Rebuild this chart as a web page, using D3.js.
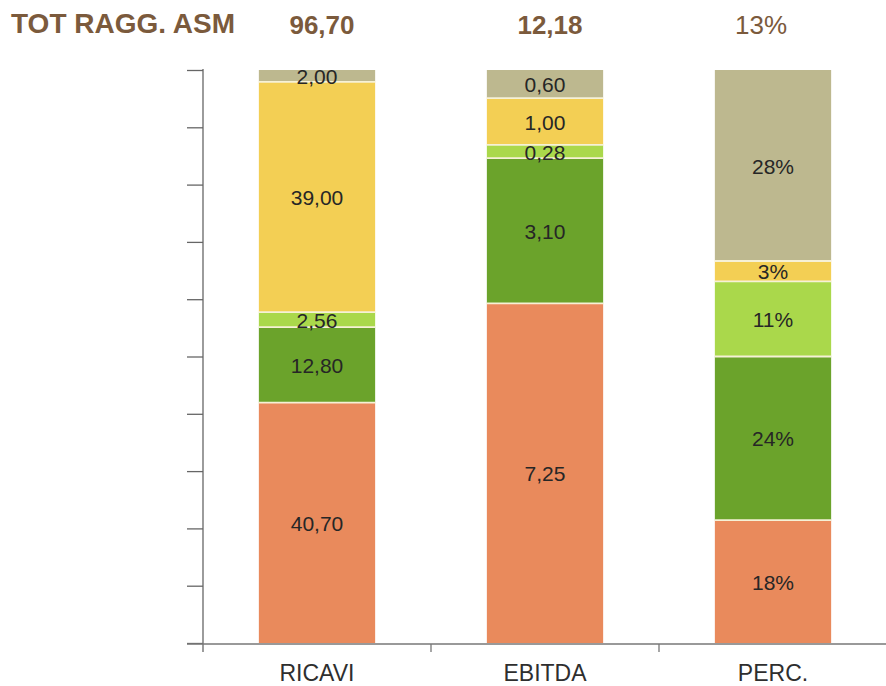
<!DOCTYPE html>
<html>
<head>
<meta charset="utf-8">
<script src="https://cdn.jsdelivr.net/npm/d3@7"></script>
<style>
  body { margin: 0; background: #fff; }
  svg { display: block; font-family: "Liberation Sans", Arial, sans-serif; }
</style>
</head>
<body>
<svg id="chart" width="886" height="686"></svg>
<script>
// categories and header totals
const categories = ["RICAVI", "EBITDA", "PERC."];
const headerTitle = "TOT RAGG. ASM";
const headerTotals = ["96,70", "12,18", "13%"];

// segments, bottom to top
const seriesKeys = ["s1", "s2", "s3", "s4", "s5"];
const s1 = [40.70, 7.25, 18];   // orange
const s2 = [12.80, 3.10, 24];   // dark green
const s3 = [2.56, 0.28, 11];    // light green
const s4 = [39.00, 1.00, 3];    // yellow
const s5 = [2.00, 0.60, 28];    // khaki
const seriesColors = ["#e98a5c", "#6ba32b", "#aad84b", "#f3cf54", "#bdb88f"];

const svg = d3.select("#chart");
const plotLeft = 203, plotRight = 887, plotTop = 70, plotBottom = 643;

const rows = categories.map(function(c, i) {
  return {cat: c, s1: s1[i], s2: s2[i], s3: s3[i], s4: s4[i], s5: s5[i]};
});

const stack = d3.stack().keys(seriesKeys).offset(d3.stackOffsetExpand);
const layers = stack(rows);

const x = d3.scaleBand()
    .domain(categories)
    .range([plotLeft, plotRight])
    .paddingInner(0.49)
    .paddingOuter(0.245);

const y = d3.scaleLinear()
    .domain([0, 1])
    .range([plotBottom, plotTop]);

const color = d3.scaleOrdinal().domain(seriesKeys).range(seriesColors);

function fmt(v, i) {
  if (i == 2) return v + "%";
  return v.toFixed(2).replace(".", ",");
}

// y axis
const yAxis = d3.axisLeft(y)
    .tickValues(d3.range(0, 1.0001, 0.1))
    .tickSize(16)
    .tickFormat("");

const gY = svg.append("g")
    .attr("transform", "translate(" + plotLeft + ",0)")
    .call(yAxis);
gY.select(".domain").remove();
gY.selectAll("line").attr("stroke", "#666").attr("stroke-width", 1.3);
svg.append("line")
    .attr("x1", plotLeft).attr("x2", plotLeft)
    .attr("y1", y(1) - 1).attr("y2", plotBottom + 9)
    .attr("stroke", "#666").attr("stroke-width", 1.3);

// x axis line + ticks at band edges
svg.append("line")
    .attr("x1", plotLeft - 16).attr("x2", plotRight)
    .attr("y1", plotBottom + 1).attr("y2", plotBottom + 1)
    .attr("stroke", "#777").attr("stroke-width", 1.3);
const step = x.step();
svg.selectAll(".xtick")
    .data(d3.range(1, categories.length + 1))
    .enter().append("line")
    .attr("class", "xtick")
    .attr("x1", function(d) { return plotLeft + d * step; })
    .attr("x2", function(d) { return plotLeft + d * step; })
    .attr("y1", plotBottom + 1).attr("y2", plotBottom + 9)
    .attr("stroke", "#777").attr("stroke-width", 1.3);

// bars
const g = svg.selectAll(".layer")
    .data(layers)
    .enter().append("g")
    .attr("class", "layer")
    .attr("fill", function(d) { return color(d.key); });

g.selectAll("rect")
    .data(function(d) { return d; })
    .enter().append("rect")
    .attr("x", function(d) { return x(d.data.cat); })
    .attr("y", function(d) { return y(d[1]); })
    .attr("width", x.bandwidth())
    .attr("height", function(d) { return y(d[0]) - y(d[1]); });

// thin light separators between segments
svg.selectAll(".sep")
    .data(layers.slice(0, -1).flatMap(function(l) { return l; }))
    .enter().append("line")
    .attr("class", "sep")
    .attr("x1", function(d) { return x(d.data.cat); })
    .attr("x2", function(d) { return x(d.data.cat) + x.bandwidth(); })
    .attr("y1", function(d) { return y(d[1]); })
    .attr("y2", function(d) { return y(d[1]); })
    .attr("stroke", "#f6f1d6").attr("stroke-width", 1.8);

// segment labels
layers.forEach(function(layer) {
  svg.selectAll(".lbl-" + layer.key)
      .data(layer)
      .enter().append("text")
      .attr("x", function(d) { return x(d.data.cat) + x.bandwidth() / 2; })
      .attr("y", function(d) { return (y(d[0]) + y(d[1])) / 2 + 8; })
      .attr("text-anchor", "middle")
      .attr("font-size", 21)
      .attr("fill", "#262626")
      .text(function(d, i) { return fmt(d.data[layer.key], i); });
});

// category labels
svg.selectAll(".cat")
    .data(categories)
    .enter().append("text")
    .attr("x", function(d) { return x(d) + x.bandwidth() / 2; })
    .attr("y", 681)
    .attr("text-anchor", "middle")
    .attr("font-size", 23)
    .attr("fill", "#2e2e2e")
    .text(function(d) { return d; });

// header
svg.append("text")
    .attr("x", 11).attr("y", 33)
    .attr("font-size", 28).attr("font-weight", "bold")
    .attr("fill", "#7b5a3c")
    .text(headerTitle);

svg.selectAll(".tot")
    .data(headerTotals)
    .enter().append("text")
    .attr("x", function(d, i) { return x(categories[i]) + x.bandwidth() / 2 + (i == 2 ? -12 : 5); })
    .attr("y", 34)
    .attr("text-anchor", "middle")
    .attr("font-size", 26)
    .attr("font-weight", function(d, i) { return i == 2 ? "normal" : "bold"; })
    .attr("fill", "#7b5a3c")
    .text(function(d) { return d; });
</script>
</body>
</html>
